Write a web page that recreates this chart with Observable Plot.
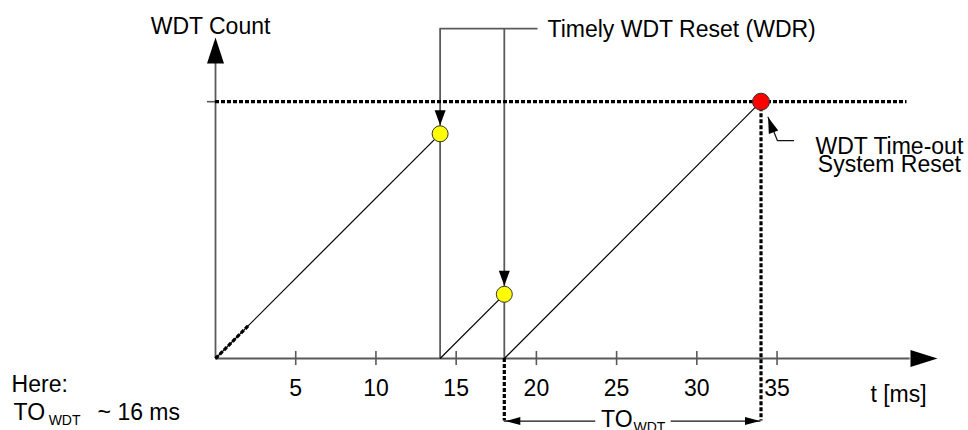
<!DOCTYPE html>
<html>
<head>
<meta charset="utf-8">
<script src="https://cdn.jsdelivr.net/npm/d3@7"></script>
<script src="https://cdn.jsdelivr.net/npm/@observablehq/plot@0.6"></script>
<style>
  html, body { margin: 0; padding: 0; background: #fff; }
  svg { display: block; }
</style>
</head>
<body>
<div id="chart"></div>
<script>
// ---------- data ----------
const xTicks = [5, 10, 15, 20, 25, 30, 35];
const rampStarts = [0, 14, 18];          // WDT counter starts counting (count = 0)
const eventTimes = [14, 18, 34];         // WDR, WDR, time-out
const eventCounts = [14, 4, 16];         // counter value at each event
const wdrTimes = [14, 18];               // timely WDT resets
const wdrCounts = [14, 4];
const timeoutTime = 34;
const timeoutCount = 16;                 // TO_WDT ~ 16 ms
const dottedEnd = 2.1;                   // dotted start of first ramp
const xMax = 45, yMax = 20;
const calloutLevel = 20.55;              // "Timely WDT Reset" callout line
const calloutEnd = 20.1;
const dimLevel = -3.9;                   // TO_WDT dimension line
const dimGap = [23.7, 28.4];

const startLabels = [
  {text: "Timely WDT Reset (WDR)", x: 20.69, y: 20.06},
  {text: "t [ms]", x: 40.82, y: -2.72},
  {text: "Here:", x: -12.71, y: -2.06},
  {text: "TO", x: -12.59, y: -3.86},
  {text: "~ 16 ms", x: -7.35, y: -3.86}
];
const middleLabels = [
  {text: "WDT Count", x: -0.31, y: 20.23},
  {text: "WDT Time-out\nSystem Reset", x: 42.0, y: 11.61}
];
const endLabels = [
  {text: "TO", x: 26, y: -4.27}
];
const subLabels = [
  {text: "WDT", x: -10.4, y: -4.17},
  {text: "WDT", x: 26.05, y: -4.55}
];

// ---------- helpers ----------
const FONT = "'Liberation Sans', Arial, Helvetica, sans-serif";
const GRAY = "#5a5a5a";
const DASH = "4,2";
function arrowHead(angleDeg, len, halfW) {
  const a = angleDeg * Math.PI / 180, c = Math.cos(a), s = Math.sin(a);
  return {
    draw(ctx) {
      const bx = -len * c, by = -len * s, px = -s * halfW, py = c * halfW;
      ctx.moveTo(0, 0);
      ctx.lineTo(bx + px, by + py);
      ctx.lineTo(bx - px, by - py);
      ctx.closePath();
    }
  };
}
const head = (data, opts, sym) =>
  Plot.dot(data, {r: 1, fill: "black", stroke: "none", symbol: sym, ...opts});
const label = (data, anchor, size) =>
  Plot.text(data, {x: "x", y: "y", text: "text", textAnchor: anchor, lineAnchor: "bottom",
                   lineHeight: 0.8, fill: "#000", fontSize: size});

const ramps = rampStarts.map((s, i) => ({x1: s, y1: 0, x2: eventTimes[i], y2: eventCounts[i]}));
const wdr = wdrTimes.map((t, i) => ({t, c: wdrCounts[i]}));

const chart = Plot.plot({
  width: 968,
  height: 430,
  marginLeft: 215,
  marginRight: 31,
  marginTop: 37,
  marginBottom: 72,
  x: {domain: [0, xMax]},
  y: {domain: [0, yMax], axis: null},
  style: {fontFamily: FONT, fontSize: "23px", background: "#fff", color: "#000"},
  marks: [
    // axes
    Plot.ruleY([0], {x1: 0, x2: 43.3, stroke: GRAY, strokeWidth: 1.8}),
    Plot.ruleX([0], {y1: 0, y2: 18.4, stroke: GRAY, strokeWidth: 1.8}),
    Plot.ruleX(xTicks, {x: d => d, y1: -0.44, y2: 0.44, stroke: GRAY, strokeWidth: 1.6}),
    Plot.ruleY([timeoutCount], {x1: -0.5, x2: 0, stroke: GRAY, strokeWidth: 1.6}),
    Plot.axisX(xTicks, {tickSize: 0, tickPadding: 21, label: null, fontSize: 23}),
    head([{x: 0, y: yMax}], {x: "x", y: "y"}, arrowHead(-90, 26, 8.5)),
    head([{x: xMax, y: 0}], {x: "x", y: "y"}, arrowHead(0, 27, 8.5)),

    // callout for timely resets (also the drop to 0)
    Plot.ruleX(wdrTimes, {x: d => d, y1: 0, y2: calloutLevel, stroke: GRAY, strokeWidth: 1.8}),
    Plot.ruleY([calloutLevel], {x1: wdrTimes[0], x2: calloutEnd, stroke: GRAY, strokeWidth: 1.8}),

    // counter ramps
    Plot.link(ramps, {x1: "x1", y1: "y1", x2: "x2", y2: "y2", stroke: "#000", strokeWidth: 1.2}),
    Plot.link([{x1: 0, y1: 0, x2: dottedEnd, y2: dottedEnd}], {x1: "x1", y1: "y1", x2: "x2", y2: "y2", stroke: "#000", strokeWidth: 3.2, strokeDasharray: DASH}),

    // time-out level and dimension verticals
    Plot.ruleY([timeoutCount], {x1: 0, x2: 43.1, stroke: "#000", strokeWidth: 3.2, strokeDasharray: DASH}),
    Plot.ruleX([timeoutTime], {x: d => d, y1: timeoutCount, y2: dimLevel, stroke: "#000", strokeWidth: 3.2, strokeDasharray: DASH}),
    Plot.ruleX([rampStarts[2]], {x: d => d, y1: 0, y2: dimLevel, stroke: "#000", strokeWidth: 3.2, strokeDasharray: DASH}),

    // TO_WDT dimension
    Plot.ruleY([dimLevel], {x1: rampStarts[2], x2: dimGap[0], stroke: "#111", strokeWidth: 1.3}),
    Plot.ruleY([dimLevel], {x1: dimGap[1], x2: timeoutTime, stroke: "#111", strokeWidth: 1.3}),
    head([{x: rampStarts[2], y: dimLevel}], {x: "x", y: "y", dx: 1}, arrowHead(180, 15, 4)),
    head([{x: timeoutTime, y: dimLevel}], {x: "x", y: "y", dx: -1}, arrowHead(0, 15, 4)),

    // time-out callout
    Plot.line([{x: 36.03, y: 13.58}, {x: 35.02, y: 13.58}, {x: 34.44, y: 15.03}], {x: "x", y: "y", stroke: "#111", strokeWidth: 1.2}),
    head([{x: 34.44, y: 15.03}], {x: "x", y: "y"}, arrowHead(-110, 16, 5)),

    // points
    Plot.dot(wdr, {x: "t", y: "c", r: 8, fill: "#ffff00", stroke: "#333", strokeWidth: 1}),
    Plot.dot([{t: timeoutTime, c: timeoutCount}], {x: "t", y: "c", r: 8.5, fill: "#ff0000", stroke: "#333", strokeWidth: 1}),
    head(wdr, {x: "t", y: "c", dy: -8.5}, arrowHead(90, 15, 5.5)),

    // texts
    label(startLabels, "start", 23),
    label(middleLabels, "middle", 23),
    label(endLabels, "end", 23),
    label(subLabels, "start", 14)
  ]
});
document.getElementById("chart").appendChild(chart);
</script>
</body>
</html>
